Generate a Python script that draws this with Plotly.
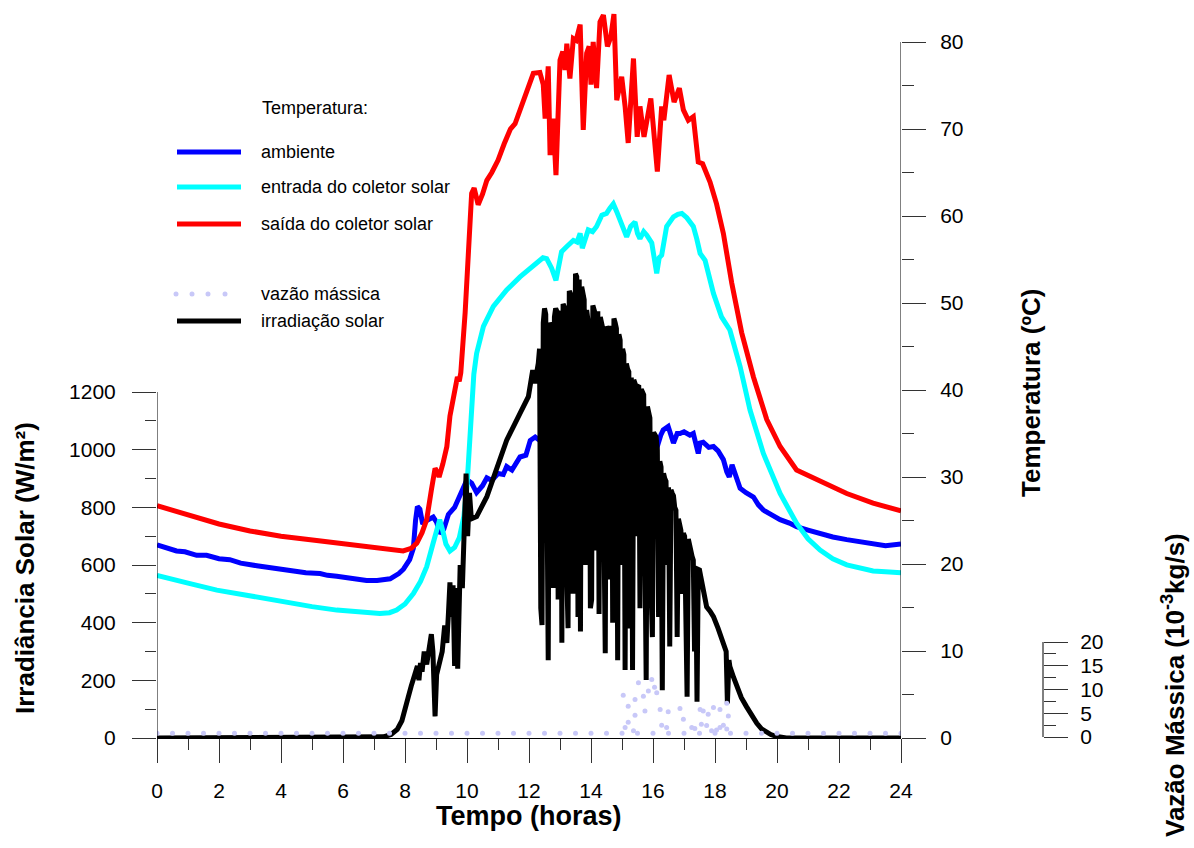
import plotly.graph_objects as go

FONT = "Arial, 'Liberation Sans', sans-serif"

# ---- data -------------------------------------------------------------
hora_ambiente = [0, 0.3, 0.63, 0.9, 1.28, 1.6, 2.0, 2.35, 2.7, 3.22, 3.6, 4.0, 4.4, 4.8, 5.26, 5.5, 5.8,
                 6.2, 6.5, 6.76, 7.1, 7.52, 7.8, 7.95, 8.15, 8.27, 8.34, 8.40, 8.48, 8.57, 8.7, 8.91,
                 9.02, 9.13, 9.25, 9.4, 9.6, 9.83, 10.0, 10.15, 10.31, 10.5, 10.64, 10.8, 11.0, 11.17,
                 11.28, 11.45, 11.71, 11.9, 12.04, 12.2, 12.35, 12.47, 12.69, 12.9, 13.12, 13.28, 13.4,
                 13.52, 13.65, 13.8, 13.97, 14.2, 14.5, 14.7, 14.94, 15.15, 15.37, 15.6, 15.8, 16.0,
                 16.12, 16.25, 16.33, 16.49, 16.58, 16.66, 16.78, 16.87, 17.0, 17.19, 17.3, 17.46,
                 17.52, 17.62, 17.8, 17.95, 18.1, 18.27, 18.38, 18.46, 18.55, 18.65, 18.81, 19.0,
                 19.24, 19.4, 19.56, 19.8, 20.1, 20.4, 20.63, 21.0, 21.39, 21.8, 22.25, 22.7, 23.1,
                 23.5, 24]
temp_ambiente = [22.2, 21.9, 21.5, 21.4, 21.0, 21.0, 20.6, 20.5, 20.1, 19.8, 19.6, 19.3, 19.2, 19.0,
                 18.9, 18.7, 18.6, 18.4, 18.3, 18.1, 18.1, 18.3, 18.9, 19.4, 20.5, 21.8, 25.0, 26.6,
                 26.3, 24.6, 25.0, 25.4, 24.8, 23.5, 24.0, 25.7, 26.5, 28.4, 29.7, 29.3, 28.2, 29.0,
                 29.9, 29.6, 30.4, 30.3, 31.2, 30.8, 32.3, 32.5, 34.2, 34.6, 34.2, 35.7, 36.2, 35.9,
                 36.6, 36.9, 37.7, 37.0, 36.6, 36.8, 35.8, 36.2, 35.8, 35.4, 35.0, 34.8, 34.3, 34.5,
                 33.9, 33.6, 33.3, 34.8, 35.4, 35.8, 34.6, 33.9, 35.0, 35.0, 35.2, 34.8, 35.0, 32.7,
                 33.9, 34.0, 33.4, 33.5, 33.0, 32.0, 30.6, 30.0, 31.4, 30.2, 28.7, 28.2, 27.7, 26.8,
                 26.2, 25.7, 25.1, 24.7, 24.3, 23.9, 23.5, 23.1, 22.8, 22.5, 22.3, 22.1, 22.3]

hora_entrada = [0, 0.5, 1.0, 1.93, 3.0, 4.29, 5.0, 5.8, 6.5, 7.19, 7.5, 7.73, 8.0, 8.27, 8.5, 8.7, 8.9,
                9.05, 9.12, 9.22, 9.32, 9.45, 9.6, 9.75, 9.9, 10.0, 10.08, 10.15, 10.22, 10.31, 10.53,
                10.85, 11.28, 11.71, 12.0, 12.25, 12.45, 12.57, 12.65, 12.73, 12.87, 13.05, 13.22,
                13.43, 13.55, 13.65, 13.72, 13.91, 14.05, 14.18, 14.35, 14.5, 14.61, 14.72, 14.83,
                14.94, 15.05, 15.15, 15.28, 15.42, 15.5, 15.58, 15.7, 15.8, 15.96, 16.05, 16.12,
                16.2, 16.28, 16.44, 16.66, 16.8, 16.93, 17.09, 17.19, 17.3, 17.41, 17.52, 17.68,
                17.95, 18.21, 18.48, 18.81, 19.13, 19.56, 20.1, 20.63, 21.0, 21.39, 21.8, 22.25,
                22.7, 23.1, 23.5, 24]
temp_entrada = [18.7, 18.2, 17.8, 17.0, 16.3, 15.5, 15.1, 14.7, 14.5, 14.3, 14.4, 14.7, 15.4, 16.6,
                18.0, 19.7, 22.3, 24.6, 25.1, 23.8, 22.3, 21.5, 21.9, 23.0, 25.5, 29.0, 34.0, 38.1,
                41.8, 44.2, 47.3, 49.6, 51.5, 53.0, 53.8, 54.6, 55.2, 55.1, 54.5, 54.0, 52.6, 55.9,
                56.5, 57.2, 57.0, 58.0, 56.3, 58.4, 58.2, 58.8, 60.1, 60.3, 60.9, 61.4, 60.5, 59.5,
                58.8, 57.6, 58.8, 59.3, 58.0, 57.4, 58.2, 57.8, 56.9, 55.0, 53.4, 55.2, 55.5, 58.8,
                59.9, 60.2, 60.3, 59.8, 59.2, 58.8, 57.4, 55.7, 54.9, 51.1, 48.4, 46.9, 42.7, 37.7,
                32.7, 28.1, 24.7, 22.9, 21.6, 20.6, 19.9, 19.5, 19.2, 19.1, 19.0]

hora_saida = [0, 1.0, 2.0, 3.0, 4.0, 5.15, 6.0, 7.0, 7.6, 7.94, 8.2, 8.38, 8.55, 8.7, 8.85, 8.97,
              9.05, 9.1, 9.22, 9.35, 9.45, 9.5, 9.6, 9.69, 9.75, 9.8, 9.94, 10.04, 10.15, 10.23,
              10.36, 10.5, 10.64, 10.8, 11.0, 11.2, 11.4, 11.55, 11.71, 11.87, 12.14, 12.35, 12.46,
              12.52, 12.62, 12.68, 12.78, 12.87, 13.0, 13.09, 13.16, 13.22, 13.32, 13.43, 13.52,
              13.65, 13.75, 13.86, 13.94, 14.0, 14.07, 14.18, 14.29, 14.40, 14.53, 14.64, 14.74,
              14.83, 14.99, 15.1, 15.2, 15.37, 15.49, 15.58, 15.71, 15.93, 16.14, 16.28, 16.35,
              16.52, 16.68, 16.85, 16.98, 17.14, 17.3, 17.46, 17.6, 17.84, 18.05, 18.27, 18.54,
              18.86, 19.24, 19.67, 20.1, 20.63, 21.39, 22.25, 23.1, 24]
temp_saida = [26.7, 25.6, 24.6, 23.8, 23.2, 22.7, 22.3, 21.8, 21.6, 21.5, 21.8, 22.4, 23.6, 25.1,
              28.5, 31.0, 30.5, 30.0, 31.5, 33.5, 37.0, 38.1, 39.5, 41.5, 41.0, 42.0, 48.9, 56.5,
              62.6, 63.2, 61.3, 62.5, 64.1, 65.0, 66.4, 68.3, 70.0, 70.6, 72.2, 73.7, 76.4, 76.5,
              75.1, 71.2, 77.2, 67.0, 71.2, 64.7, 77.9, 78.9, 76.8, 79.8, 75.8, 80.4, 80.2, 82.0,
              69.9, 78.7, 79.5, 75.1, 80.0, 74.7, 82.3, 83.1, 79.5, 80.6, 83.2, 73.3, 76.0, 72.6,
              68.4, 78.1, 69.1, 72.6, 69.1, 73.5, 65.1, 72.6, 71.0, 76.2, 73.1, 74.7, 72.2, 71.0,
              71.4, 66.2, 66.0, 63.9, 61.4, 58.0, 52.3, 46.6, 41.5, 36.6, 33.5, 30.8, 29.5, 28.1,
              27.0, 26.1]

hora_irradiacao = [0, 7.0, 7.3, 7.55, 7.75, 7.9, 8.0, 8.1, 8.2, 8.3, 8.4, 8.45, 8.5, 8.55, 8.62,
                   8.7, 8.78, 8.85, 8.9, 8.97, 9.02, 9.1, 9.2, 9.28, 9.35, 9.4, 9.45, 9.5, 9.55,
                   9.6, 9.65, 9.7, 9.78, 9.85, 9.92, 9.97, 10.02, 10.08, 10.14, 10.31, 10.64,
                   11.28, 11.71, 11.98, 12.12, 12.19,
                   12.30, 12.34, 12.38, 12.42, 12.46, 12.50, 12.54, 12.58, 12.62, 12.66,
                   12.70, 12.74, 12.78, 12.82, 12.86, 12.90, 12.94, 12.98, 13.02, 13.06,
                   13.10, 13.14, 13.18, 13.22, 13.26, 13.30, 13.34, 13.38, 13.42, 13.46,
                   13.50, 13.54, 13.58, 13.62, 13.66, 13.70, 13.74, 13.78, 13.82, 13.86,
                   13.90, 13.94, 13.98, 14.02, 14.06, 14.10, 14.14, 14.18, 14.22, 14.26,
                   14.30, 14.34, 14.38, 14.42, 14.46, 14.50, 14.54, 14.58, 14.62, 14.66,
                   14.70, 14.74, 14.78, 14.82, 14.86, 14.90, 14.94, 14.98, 15.02, 15.06,
                   15.10, 15.14, 15.18, 15.22, 15.26, 15.30, 15.34, 15.38, 15.42, 15.46,
                   15.50, 15.54, 15.58, 15.62, 15.66, 15.70, 15.74, 15.78, 15.82, 15.86,
                   15.90, 15.94, 15.98, 16.02, 16.06, 16.10, 16.14, 16.18, 16.22, 16.26,
                   16.30, 16.34, 16.38, 16.42, 16.46, 16.50, 16.54, 16.58, 16.62, 16.66,
                   16.70, 16.74, 16.78, 16.82, 16.86, 16.90, 16.94, 16.98, 17.02, 17.06,
                   17.10, 17.14, 17.18, 17.22, 17.26, 17.30, 17.34, 17.38, 17.42, 17.46,
                   17.50, 17.54, 17.58, 17.62, 17.66,
                   17.73, 17.84, 17.95, 18.10, 18.27, 18.36, 18.40, 18.45, 18.48, 18.60,
                   18.70, 18.85, 19.02, 19.20, 19.35, 19.50, 19.65, 19.8, 20.0, 20.3, 24]
irradiacao = [0, 0, 4, 12, 30, 60, 95, 140, 180, 215, 250, 200, 260, 230, 300,
              255, 330, 360, 300, 75, 220, 260, 300, 390, 330, 430, 540, 420, 530,
              250, 520, 240, 600, 520, 800, 917, 700, 850, 760, 768, 837,
              1033, 1126, 1184, 1276, 1230,
              1300, 1350, 450, 392, 1440, 1490, 1470, 600, 270, 1380,
              1440, 1430, 520, 1460, 1490, 1480, 480, 1470, 1480, 330,
              1505, 1495, 1480, 560, 381, 1550, 1540, 1530, 500, 1570,
              1610, 1600, 420, 1590, 369, 1565, 1540, 1520, 600, 1484,
              1450, 1440, 450, 479, 1500, 1480, 1470, 650, 1480, 430,
              1460, 1440, 1420, 700, 294, 1427, 1415, 1410, 550, 1430,
              400, 1455, 1440, 1420, 270, 1400, 1380, 600, 1350, 1330,
              236, 1299, 1280, 1270, 380, 1250, 236, 1242, 1230, 700,
              1220, 1218, 450, 1210, 1200, 1190, 650, 201, 1150, 1120,
              1110, 500, 350, 1060, 1050, 1045, 1000, 420, 960, 940,
              166, 918, 900, 890, 600, 870, 317, 860, 849, 840,
              800, 790, 350, 760, 740, 720, 500, 710, 700, 300,
              143, 690, 660, 640, 630, 617, 300, 590, 126, 585,
              583, 560, 540, 520, 502,
              455, 440, 421, 380, 328, 300, 120, 270, 248, 210,
              178, 140, 108, 75, 51, 32, 20, 12, 5, 0, 0]

hora_vazao = [0, 0.5, 1.0, 1.5, 2.0, 2.5, 3.0, 3.5, 4.0, 4.5, 5.0, 5.5, 6.0, 6.5, 7.0, 7.5, 8.0,
              8.5, 9.0, 9.5, 10.0, 10.5, 11.0, 11.5, 12.0, 12.5, 13.0, 13.5, 14.0, 14.5, 15.0,
              15.04, 15.1, 15.2, 15.2, 15.37, 15.42, 15.42, 15.5, 15.53, 15.69, 15.74, 15.85,
              15.96, 16.0, 16.05, 16.12, 16.23, 16.28, 16.44, 16.49, 16.5, 16.87, 16.98, 17.0,
              17.25, 17.35, 17.5, 17.52, 17.56, 17.62, 17.73, 17.78, 17.89, 17.95, 18.0, 18.05,
              18.16, 18.16, 18.27, 18.38, 18.38, 18.43, 18.5, 19.0, 19.5, 20.0, 20.5, 21.0,
              21.5, 22.0, 22.5, 23.0, 23.5, 24.0]
vazao = [0.8, 0.8, 0.8, 0.8, 0.8, 0.8, 0.8, 0.8, 0.8, 0.8, 0.8, 0.8, 0.8, 0.8, 0.8, 0.8, 0.8,
         0.8, 0.8, 0.8, 0.8, 0.8, 0.8, 0.8, 0.8, 0.8, 0.8, 0.8, 0.8, 0.8, 0.8,
         8.8, 2.0, 6.5, 3.1, 1.3, 7.9, 4.6, 0.8, 11.4, 8.6, 5.5, 9.7,
         12.1, 0.8, 10.5, 9.3, 5.8, 2.5, 2.0, 5.3, 0.8, 6.0, 3.75, 0.8,
         2.0, 1.8, 0.8, 5.8, 2.7, 5.5, 2.4, 4.8, 1.3, 6.2, 0.8, 1.5,
         5.8, 2.0, 2.5, 7.1, 1.7, 4.4, 0.8, 0.8, 0.8, 0.8, 0.8, 0.8,
         0.8, 0.8, 0.8, 0.8, 0.8, 0.8]

tempo_ticks = list(range(0, 25, 2))
irr_ticks = list(range(0, 1201, 200))
temp_ticks = list(range(0, 81, 10))
vazao_ticks = [0, 5, 10, 15, 20]

# ---- page geometry (pixels of the 1194x848 page) ---------------------
W, H = 1194, 848
ML, MR, MT, MB = 157, 40, 10, 110
PW, PH = W - ML - MR, H - MT - MB
X_RIGHT = 901          # right end of the time axis
X_VAZAO = 1043         # free mass-flow axis


def px(x):
    return (x - ML) / PW


def py(y):
    return (H - MB - y) / PH


# scale factors: 80 ºC over 696 px, 1200 W/m² over 346 px, 20 (10^-3 kg/s) over 95 px
temp_max = PH / (696 / 80)
irr_max = PH / (346 / 1200)
vaz_px = 95 / 20
vaz_min = -1 / vaz_px
vaz_max = vaz_min + PH / vaz_px

fig = go.Figure()

fig.add_trace(go.Scatter(x=hora_ambiente, y=temp_ambiente, mode="lines", yaxis="y",
                         line=dict(color="#0000ff", width=5), name="ambiente"))
fig.add_trace(go.Scatter(x=hora_entrada, y=temp_entrada, mode="lines", yaxis="y",
                         line=dict(color="#00ffff", width=5), name="entrada do coletor solar"))
fig.add_trace(go.Scatter(x=hora_saida, y=temp_saida, mode="lines", yaxis="y",
                         line=dict(color="#ff0000", width=5), name="saída do coletor solar"))
fig.add_trace(go.Scatter(x=hora_irradiacao, y=irradiacao, mode="lines", yaxis="y2",
                         line=dict(color="#000000", width=5), name="irradiação solar"))
fig.add_trace(go.Scatter(x=hora_vazao, y=vazao, mode="markers", yaxis="y3",
                         marker=dict(color="#c8c8f8", size=5), name="vazão mássica"))

tick_font = dict(family=FONT, size=21, color="#000000")
title_font = dict(family=FONT, size=26, color="#000000", weight="bold")
minor_common = dict(ticks="outside", tickcolor="#333333", tickwidth=1, tickmode="array")

fig.update_layout(
    width=W, height=H,
    margin=dict(l=ML, r=MR, t=MT, b=MB),
    paper_bgcolor="white", plot_bgcolor="white",
    showlegend=False,
    font=dict(family=FONT, color="#000000"),
    xaxis=dict(domain=[0, px(X_RIGHT)], range=[0, 24], showgrid=False, zeroline=False,
               showline=True, linecolor="#000000", linewidth=1,
               tickmode="array", tickvals=tempo_ticks, ticks="outside", ticklen=24,
               tickcolor="#333333", tickwidth=1, tickfont=tick_font, ticklabelstandoff=10,
               minor=dict(tickvals=list(range(1, 24, 2)), ticklen=11, **minor_common)),
    # temperature scale (right)
    yaxis=dict(range=[0, temp_max], side="right", anchor="x", showgrid=False, zeroline=False,
               showline=False, tickmode="array", tickvals=temp_ticks, ticks="outside",
               ticklen=24, tickcolor="#333333", tickwidth=1, tickfont=tick_font,
               ticklabelstandoff=10,
               minor=dict(tickvals=list(range(5, 80, 10)), ticklen=12, **minor_common)),
    # solar irradiance scale (left)
    yaxis2=dict(range=[0, irr_max], overlaying="y", side="left", anchor="x", showgrid=False,
                zeroline=False, showline=False, tickmode="array", tickvals=irr_ticks,
                ticks="outside", ticklen=24, tickcolor="#333333", tickwidth=1,
                tickfont=tick_font, ticklabelstandoff=12,
                minor=dict(tickvals=list(range(100, 1200, 200)), ticklen=11, **minor_common)),
    # mass flow scale (free, far right)
    yaxis3=dict(range=[vaz_min, vaz_max], overlaying="y", side="right", anchor="free",
                position=px(X_VAZAO), showgrid=False, zeroline=False, showline=False,
                tickmode="array", tickvals=vazao_ticks, ticks="outside", ticklen=24,
                tickcolor="#333333", tickwidth=1, tickfont=tick_font, ticklabelstandoff=8,
                minor=dict(tickvals=[2.5, 7.5, 12.5, 17.5], ticklen=12, **minor_common)),
)

# axis spines limited to the labelled ranges
fig.add_shape(type="line", xref="x", yref="y2", x0=0, x1=0, y0=0, y1=1200,
              line=dict(color="#000000", width=1))
fig.add_shape(type="line", xref="x", yref="y", x0=24, x1=24, y0=0, y1=80,
              line=dict(color="#000000", width=1))
fig.add_shape(type="line", xref="paper", yref="y3", x0=px(X_VAZAO), x1=px(X_VAZAO), y0=0, y1=20,
              line=dict(color="#000000", width=1))

# axis titles
fig.add_annotation(text="Tempo (horas)", xref="paper", yref="paper", x=px(529), y=py(816),
                   showarrow=False, font=dict(title_font, size=27), xanchor="center",
                   yanchor="middle")
fig.add_annotation(text="Irradiância Solar (W/m²)", xref="paper", yref="paper", x=px(25),
                   y=py(568), textangle=-90, showarrow=False, font=title_font,
                   xanchor="center", yanchor="middle")
fig.add_annotation(text="Temperatura (ºC)", xref="paper", yref="paper", x=px(1031),
                   y=py(393), textangle=-90, showarrow=False, font=title_font,
                   xanchor="center", yanchor="middle")
fig.add_annotation(text="Vazão Mássica (10<sup>-3</sup>kg/s)", xref="paper", yref="paper",
                   x=px(1173), y=py(685), textangle=-90, showarrow=False, font=title_font,
                   xanchor="center", yanchor="middle")

# legend block
leg_font = dict(family=FONT, size=18, color="#000000")
fig.add_annotation(text="Temperatura:", xref="paper", yref="paper", x=px(260), y=py(108),
                   showarrow=False, font=leg_font, xanchor="left", yanchor="middle")
legend_lines = [("ambiente", "#0000ff", 152), ("entrada do coletor solar", "#00ffff", 187),
                ("saída do coletor solar", "#ff0000", 224), ("irradiação solar", "#000000", 321)]
for label, color, ypix in legend_lines:
    fig.add_shape(type="line", xref="paper", yref="paper", x0=px(177), x1=px(241),
                  y0=py(ypix), y1=py(ypix), line=dict(color=color, width=5))
    fig.add_annotation(text=label, xref="paper", yref="paper", x=px(259), y=py(ypix),
                       showarrow=False, font=leg_font, xanchor="left", yanchor="middle")
for xdot in (176, 192, 208, 225):
    fig.add_shape(type="circle", xref="paper", yref="paper", x0=px(xdot - 2.5),
                  x1=px(xdot + 2.5), y0=py(294 + 2.5), y1=py(294 - 2.5),
                  line=dict(width=0), fillcolor="#c8c8f8")
fig.add_annotation(text="vazão mássica", xref="paper", yref="paper", x=px(259), y=py(294),
                   showarrow=False, font=leg_font, xanchor="left", yanchor="middle")

fig.write_html("out.html")
